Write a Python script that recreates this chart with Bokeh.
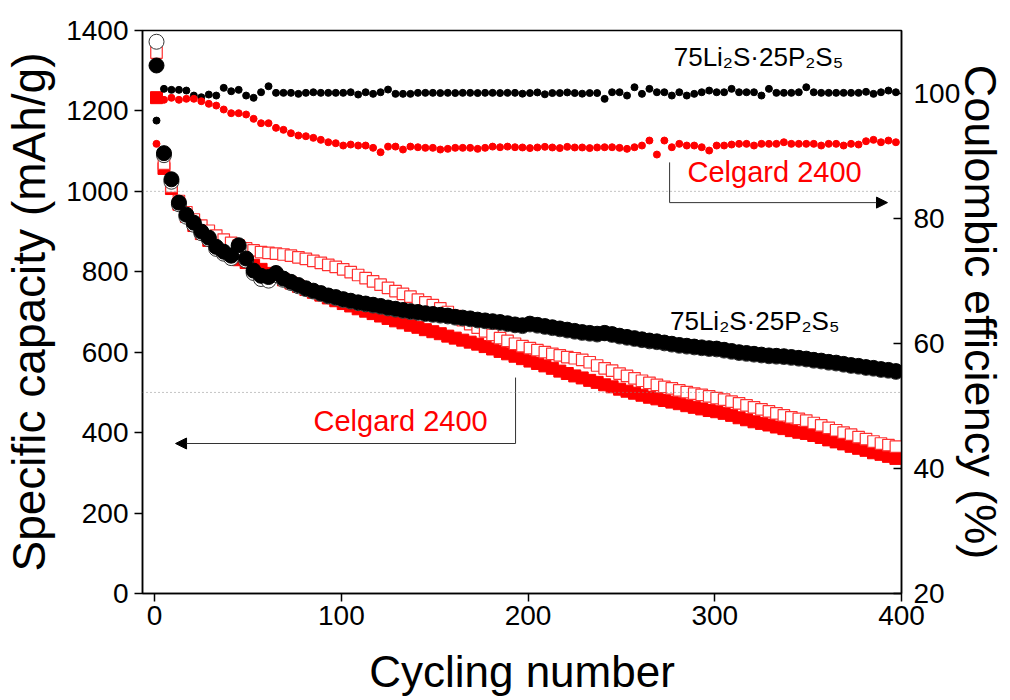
from bokeh.plotting import figure
from bokeh.models import Range1d, LinearAxis, Span, Label, Arrow, NormalHead, ColumnDataSource
from bokeh.embed import file_html
from bokeh.resources import INLINE

# ---------------- data ----------------
cycles = list(range(1, 400, 4))

# 75Li2S-25P2S5 : discharge (filled circles) / charge (open circles), mAh/g
lps_dis = [1313, 1095, 1030, 972, 942, 922, 900, 885, 862, 850,
           840, 866, 833, 803, 790, 787, 797, 783, 775, 767,
           759, 753, 747, 741, 737, 732, 728, 724, 721, 718,
           715, 711, 708, 705, 702, 700, 697, 695, 693, 691,
           688, 686, 684, 681, 679, 677, 675, 672, 669, 667,
           671, 668, 665, 662, 659, 656, 653, 650, 648, 646,
           648, 645, 641, 638, 635, 632, 629, 627, 624, 621,
           618, 616, 614, 612, 610, 609, 606, 603, 600, 598,
           596, 594, 592, 591, 590, 588, 586, 584, 581, 579,
           576, 574, 571, 568, 566, 563, 561, 558, 556, 553]
lps_chg = [1372, 1090, 1024, 968, 937, 917, 896, 881, 857, 845,
           834, 860, 828, 797, 782, 778, 792, 780, 772, 764,
           757, 751, 745, 739, 735, 730, 726, 722, 719, 716,
           713, 709, 706, 703, 700, 698, 695, 693, 691, 689,
           686, 684, 682, 679, 677, 675, 673, 670, 667, 665,
           669, 666, 663, 660, 657, 654, 651, 648, 646, 644,
           647, 643, 639, 636, 633, 630, 627, 625, 622, 619,
           616, 614, 612, 610, 608, 607, 604, 601, 598, 596,
           594, 592, 590, 589, 588, 586, 584, 582, 579, 577,
           574, 572, 569, 566, 564, 561, 559, 556, 554, 551]

# Celgard 2400 : discharge (filled squares) / charge (open squares), mAh/g
cel_dis = [1233, 1057, 1007, 968, 938, 915, 895, 878, 862, 850,
           840, 830, 823, 816, 806, 796, 788, 780, 772, 764,
           756, 749, 742, 735, 728, 721, 715, 708, 702, 696,
           690, 684, 678, 673, 667, 662, 656, 651, 646, 640,
           635, 630, 625, 620, 614, 608, 602, 596, 590, 584,
           578, 572, 566, 560, 553, 547, 541, 536, 530, 525,
           519, 514, 508, 503, 498, 493, 488, 484, 480, 476,
           472, 467, 463, 459, 455, 452, 448, 443, 437, 432,
           427, 423, 419, 414, 410, 405, 401, 398, 393, 388,
           382, 377, 372, 366, 361, 356, 350, 346, 341, 336]
cel_chg = [1345, 1069, 1012, 976, 948, 930, 915, 902, 890, 880,
           872, 865, 858, 853, 849, 847, 845, 843, 840, 836,
           832, 827, 822, 817, 812, 806, 799, 792, 784, 776,
           768, 760, 752, 745, 738, 731, 724, 717, 709, 700,
           690, 680, 670, 661, 652, 643, 635, 628, 621, 615,
           610, 605, 600, 596, 592, 588, 585, 581, 575, 567,
           560, 554, 547, 541, 535, 529, 524, 519, 514, 510,
           505, 501, 497, 494, 490, 486, 482, 477, 473, 468,
           463, 458, 453, 448, 443, 438, 434, 430, 424, 418,
           412, 406, 400, 395, 389, 384, 378, 373, 369, 365]

# Coulombic efficiency (%)
lps_ce = [95.6, 100.67, 100.51, 100.51, 100.40, 99.60, 99.33, 99.76, 99.60, 100.83,
          100.29, 100.51, 99.60, 99.24, 100.13, 101.09, 100.03, 100.03, 100.03, 99.87,
          100.03, 100.13, 100.03, 100.03, 100.03, 100.03, 100.13, 99.76, 100.13, 99.87,
          100.13, 100.56, 99.87, 99.87, 99.87, 100.03, 100.03, 100.03, 100.0, 100.03,
          100.0, 100.03, 100.03, 100.0, 100.03, 100.03, 100.0, 100.03, 100.03, 99.9,
          100.0, 100.1, 99.8, 100.0, 100.0, 100.1, 100.0, 99.9, 100.0, 100.0,
          99.07, 100.13, 100.13, 99.6, 100.93, 99.87, 100.67, 100.13, 100.13, 99.6,
          100.13, 99.6, 99.87, 100.13, 100.4, 100.13, 100.13, 100.67, 100.13, 100.13,
          100.13, 99.6, 100.67, 100.03, 100.03, 100.03, 100.13, 100.93, 100.13, 100.03,
          100.03, 100.03, 100.03, 100.03, 100.03, 100.2, 99.87, 100.13, 100.4, 100.13]
cel_ce = [91.88, 98.92, 99.24, 98.92, 99.08, 99.08, 98.7, 98.28, 98.0, 97.37,
          96.78, 96.78, 96.57, 95.88, 95.18, 95.18, 94.44, 94.12, 93.58, 93.21,
          93.1, 92.84, 92.52, 92.14, 91.98, 91.61, 91.77, 91.61, 91.61, 91.24,
          90.54, 91.44, 91.44, 90.97, 91.44, 91.34, 91.24, 91.24, 90.97, 91.08,
          91.24, 91.24, 91.24, 91.08, 91.24, 91.44, 91.34, 91.44, 91.34, 91.3,
          91.2, 91.3, 91.4, 91.3, 91.2, 91.4, 91.3, 91.3, 91.2, 91.3,
          91.34, 91.34, 91.24, 91.08, 91.34, 91.61, 92.41, 90.17, 92.41, 91.34,
          91.88, 91.61, 91.61, 91.34, 90.81, 91.61, 91.61, 91.77, 91.88, 91.88,
          91.61, 91.88, 91.88, 91.88, 92.14, 91.88, 91.88, 91.88, 91.88, 91.61,
          91.88, 91.88, 91.61, 91.88, 91.77, 92.3, 92.52, 92.14, 92.41, 92.14]

x_ticks = [0, 100, 200, 300, 400]
y_ticks = [0, 200, 400, 600, 800, 1000, 1200, 1400]
ce_ticks = [20, 40, 60, 80, 100]

formula = "75Li\u2082S\u00b725P\u2082S\u2085"
sep_name = "Celgard 2400"

# annotation anchors (data units)
ref_lines = [1000, 500]
arrow_up = dict(x0=275.8, ytop=1072, y=972, x1=392.5)
arrow_lo = dict(x0=193.3, ytop=537, y=373, x1=11.2)

# ---------------- figure ----------------
FONT = "Liberation Sans"

p = figure(width=1010, height=700, x_range=Range1d(-6.5, 400), y_range=Range1d(0, 1400),
           output_backend="svg", toolbar_location=None,
           min_border_left=142, min_border_right=109, min_border_top=30, min_border_bottom=107)
p.extra_y_ranges = {"ce": Range1d(20, 110)}
p.xgrid.visible = False
p.ygrid.visible = False
p.outline_line_color = "black"
p.outline_line_width = 1.5
p.background_fill_color = "white"
p.border_fill_color = "white"

src = ColumnDataSource(dict(c=cycles, ld=lps_dis, lc=lps_chg, cd=cel_dis, cc=cel_chg,
                            lce=lps_ce, cce=cel_ce))

for loc in ref_lines:
    p.add_layout(Span(location=loc, dimension="width", line_color="#888888",
                      line_width=1, line_dash="1 3"))

p.scatter("c", "cd", source=src, marker="square", size=12, fill_color="red", line_color="red")
p.scatter("c", "cc", source=src, marker="square", size=11.5, fill_color="white", line_color="#ff3030",
          line_width=1.2)
p.scatter("c", "lc", source=src, marker="circle", size=15, fill_color="white", line_color="#333333",
          line_width=1)
p.scatter("c", "ld", source=src, marker="circle", size=15, fill_color="black", line_color="black")
p.scatter("c", "lce", source=src, marker="circle", size=7, fill_color="black", line_color="black",
          y_range_name="ce")
p.scatter("c", "cce", source=src, marker="circle", size=7, fill_color="red", line_color="red",
          y_range_name="ce")

# arrows
for a in (arrow_up, arrow_lo):
    p.line([a["x0"], a["x0"]], [a["ytop"], a["y"]], line_color="#333333", line_width=1)
    p.add_layout(Arrow(x_start=a["x0"], y_start=a["y"], x_end=a["x1"], y_end=a["y"],
                       line_color="#333333", line_width=1,
                       end=NormalHead(size=11, fill_color="black", line_color="black")))

# texts
p.add_layout(Label(x=278, y=1335, text=formula, text_font=FONT, text_font_size="26px",
                   text_color="black", text_baseline="alphabetic"))
p.add_layout(Label(x=276, y=678, text=formula, text_font=FONT, text_font_size="26px",
                   text_color="black", text_baseline="alphabetic"))
p.add_layout(Label(x=285.4, y=1048, text=sep_name, text_font=FONT, text_font_size="29px",
                   text_color="red", text_baseline="alphabetic"))
p.add_layout(Label(x=85.1, y=428, text=sep_name, text_font=FONT, text_font_size="29px",
                   text_color="red", text_baseline="alphabetic"))

# axes
def style(ax, label_size):
    ax.axis_line_width = 1.5
    ax.major_tick_line_width = 1.5
    ax.minor_tick_line_width = 1.5
    ax.major_label_text_font = FONT
    ax.major_label_text_font_size = "28px"
    ax.major_label_text_color = "black"
    ax.axis_label_text_font = FONT
    ax.axis_label_text_font_size = label_size
    ax.axis_label_text_font_style = "normal"
    ax.axis_label_text_color = "black"

xa = p.xaxis[0]
style(xa, "44px")
xa.axis_label = "Cycling number"
xa.ticker = x_ticks
xa.ticker.num_minor_ticks = 2
xa.major_tick_out = 8
xa.major_tick_in = 0
xa.minor_tick_out = 5
xa.minor_tick_in = 0
xa.major_label_standoff = 4
xa.axis_label_standoff = 19

ya = p.yaxis[0]
style(ya, "46px")
ya.axis_label = "Specific capacity (mAh/g)"
ya.ticker = y_ticks
ya.ticker.num_minor_ticks = 2
ya.major_tick_out = 8
ya.major_tick_in = 0
ya.minor_tick_out = 5
ya.minor_tick_in = 0
ya.major_label_standoff = 6
ya.axis_label_standoff = 8

ra = LinearAxis(y_range_name="ce")
style(ra, "45px")
ra.axis_label = "Coulombic efficiency (%)"
ra.ticker = ce_ticks
ra.ticker.num_minor_ticks = 2
ra.major_tick_out = 0
ra.major_tick_in = 8
ra.minor_tick_out = 0
ra.minor_tick_in = 5
ra.major_label_standoff = 12
ra.axis_label_standoff = -8
p.add_layout(ra, "right")

open("out.html", "w").write(file_html(p, INLINE))
